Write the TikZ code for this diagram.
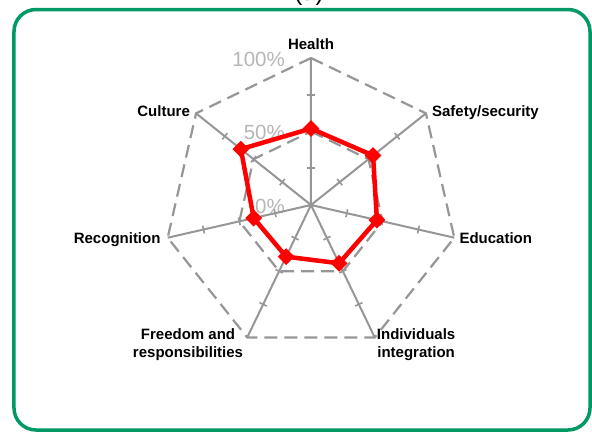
\documentclass[tikz,border=0pt]{standalone}
\usepackage{fontspec}
\setmainfont{Liberation Sans}
\usetikzlibrary{shapes.geometric}
\definecolor{framegreen}{RGB}{0,153,102}
\definecolor{gridgray}{RGB}{150,150,150}
\definecolor{pctgray}{RGB}{182,182,182}
\tikzset{
  catlabel/.style={inner sep=0pt, align=center, font=\fontsize{15}{17.5}\selectfont\bfseries},
  pctlabel/.style={inner sep=0pt, anchor=base east, text=pctgray, font=\fontsize{20.5}{24}\selectfont},
  ring/.style={gridgray, line width=2.2pt, dash pattern=on 13pt off 7pt},
  spoke/.style={gridgray, line width=2pt},
  tickmark/.style={gridgray, line width=1.6pt},
  datamark/.style={diamond, fill=red, inner sep=0pt, minimum width=17pt, minimum height=17pt},
}
\begin{document}
\begin{tikzpicture}[x=1pt,y=1pt]
	\useasboundingbox (-311,-227) rectangle (281,205);
	\draw [framegreen, line width=3.5pt, rounded corners=22pt] (-297,195.5) rectangle (279,-225);
	\node [anchor=base, font=\fontsize{24}{28}\selectfont] (caption) at (-2,205) {(a)};

	% scale labels
	\node [pctlabel] (p0) at (-26,-8) {0\%};
	\node [pctlabel] (p50) at (-26,66) {50\%};
	\node [pctlabel] (p100) at (-26,139) {100\%};

	% axis ends
	\coordinate (O) at (0,0);
	\coordinate (hea) at (90:147);
	\coordinate (saf) at (38.571:147);
	\coordinate (edu) at (-12.857:147);
	\coordinate (ind) at (-64.286:147);
	\coordinate (fre) at (-115.714:147);
	\coordinate (rec) at (-167.143:147);
	\coordinate (cul) at (141.429:147);

	\draw [ring] (hea) -- (saf) -- (edu) -- (ind) -- (fre) -- (rec) -- (cul) -- cycle;
	\draw [ring] (90:73.5) -- (38.571:73.5) -- (-12.857:73.5) -- (-64.286:73.5) -- (-115.714:73.5) -- (-167.143:73.5) -- (141.429:73.5) -- cycle;
	\draw [spoke] (O) -- (hea) (O) -- (saf) (O) -- (edu) (O) -- (ind) (O) -- (fre) (O) -- (rec) (O) -- (cul);
	\foreach \a in {90,38.571,-12.857,-64.286,-115.714,-167.143,141.429}
		\foreach \r in {36.75,73.5,110.25}
			\draw [tickmark, rotate=\a] (\r,-4) -- (\r,4);

	% data
	\coordinate (phea) at (90:{0.52*147});
	\coordinate (psaf) at (38.571:{0.54*147});
	\coordinate (pedu) at (-12.857:{0.46*147});
	\coordinate (pind) at (-64.286:{0.44*147});
	\coordinate (pfre) at (-115.714:{0.39*147});
	\coordinate (prec) at (-167.143:{0.40*147});
	\coordinate (pcul) at (141.429:{0.61*147});
	\draw [red, line width=4.5pt, line join=round] (phea) -- (psaf) -- (pedu) -- (pind) -- (pfre) -- (prec) -- (pcul) -- cycle;
	\node [datamark] (mhea) at (phea) {};
	\node [datamark] (msaf) at (psaf) {};
	\node [datamark] (medu) at (pedu) {};
	\node [datamark] (mind) at (pind) {};
	\node [datamark] (mfre) at (pfre) {};
	\node [datamark] (mrec) at (prec) {};
	\node [datamark] (mcul) at (pcul) {};

	% category labels
	\node [catlabel, anchor=base] (lhea) at ([yshift=9]hea) {Health};
	\node [catlabel, anchor=base west] (lsaf) at ([shift={(6,-3)}]saf) {Safety/security};
	\node [catlabel, anchor=base west] (ledu) at ([shift={(5,-6)}]edu) {Education};
	\node [catlabel, anchor=north west] (lind) at ([shift={(2,9)}]ind) {Individuals\\integration};
	\node [catlabel, anchor=north east] (lfre) at ([shift={(-4,9)}]fre) {Freedom and\\responsibilities};
	\node [catlabel, anchor=base east] (lrec) at ([shift={(-7,-6)}]rec) {Recognition};
	\node [catlabel, anchor=base east] (lcul) at ([shift={(-6,-3)}]cul) {Culture};
\end{tikzpicture}
\end{document}
